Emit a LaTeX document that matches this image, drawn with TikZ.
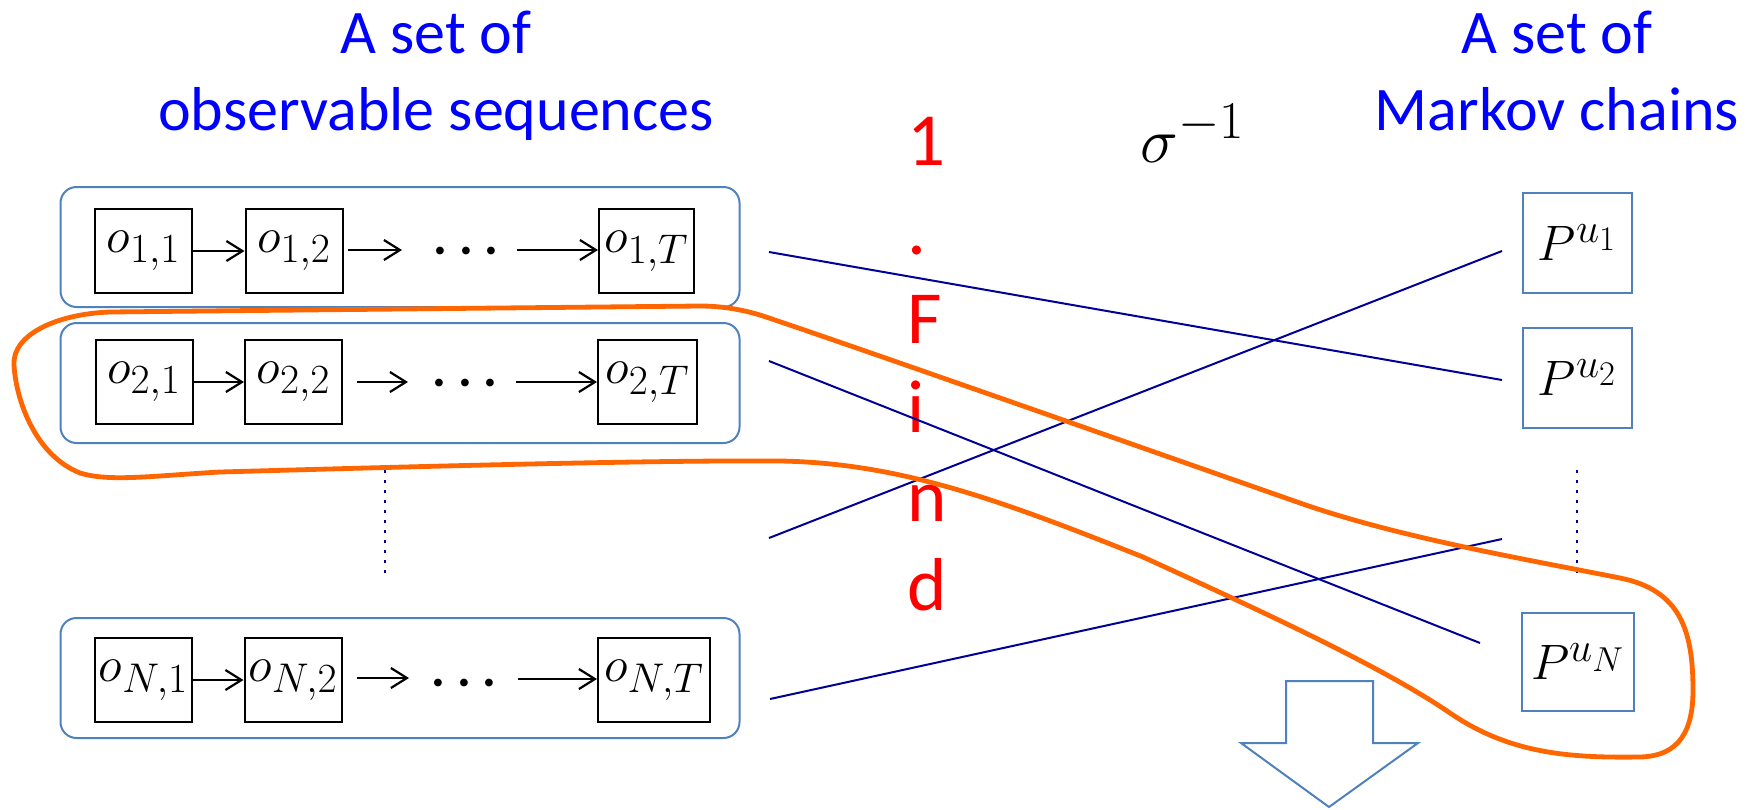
\documentclass[tikz,border=0pt]{standalone}
\usepackage{fontspec}
\newfontfamily\carl{Carlito}
\usetikzlibrary{arrows.meta,calc}
\definecolor{boxblue}{RGB}{79,129,189}
\definecolor{linenavy}{RGB}{0,0,150}
\definecolor{curveorange}{RGB}{255,102,0}
\definecolor{titleblue}{RGB}{0,0,255}
\definecolor{findred}{RGB}{255,0,0}
\tikzset{
  seqbox/.style={draw=boxblue, line width=1pt, rounded corners=8pt, minimum width=339.5pt, minimum height=60pt, inner sep=0pt},
  obox/.style={draw=black, line width=1pt, minimum width=48.5pt, minimum height=42pt, inner sep=0pt, font=\fontsize{24.88}{30}\selectfont},
  pbox/.style={draw=boxblue, line width=1pt, minimum width=54.5pt, minimum height=50pt, inner sep=0pt, font=\fontsize{24.88}{30}\selectfont},
  seqarrow/.style={-{Straight Barb[length=8pt,width=10pt,line width=1.1pt]}, line width=1.1pt},
  dotsnode/.style={inner sep=0pt, anchor=base, font=\fontsize{24.88}{30}\selectfont\boldmath},
  title/.style={text=titleblue, inner sep=0pt, anchor=base, font=\carl\fontsize{31}{38}\selectfont},
  findtext/.style={text=findred, inner sep=0pt, anchor=base west, font=\carl\fontsize{37.5}{44}\selectfont},
  link/.style={draw=linenavy, line width=1pt},
  vdots/.style={draw=linenavy, line width=1.4pt, dash pattern=on 1.4pt off 3.6pt},
  curve/.style={draw=curveorange, line width=2.4pt, line join=round},
  bigarrow/.style={draw=boxblue, line width=1pt, line join=miter}
}
\begin{document}
\begin{tikzpicture}[x=0.5pt,y=-0.5pt]
\useasboundingbox (0,0) rectangle (1762,809);

% titles
\node[title] (tl1) at (436,53) {A set of};
\node[title] (tl2) at (436,130) {observable sequences};
\node[title] (tr1) at (1557,53) {A set of};
\node[title] (tr2) at (1557,130) {Markov chains};

% sigma
\node[inner sep=0pt, anchor=base west, font=\fontsize{24.88}{30}\selectfont, scale=1.28, transform shape] (sig) at (1140,162) {$\sigma^{-1}$};

% sequence boxes
\node[seqbox] (s1) at (400,247) {};
\node[seqbox] (s2) at (400,383) {};
\node[seqbox] (s3) at (400,678) {};

% row 1
\node[obox] (o11) at (143.5,251) {$o_{1,1}$};
\node[obox] (o12) at (294,251) {$o_{1,2}$};
\node[obox, minimum width=47.5pt] (o1T) at (646.5,251) {$o_{1,T}$};
\coordinate (r1b) at (348,250);
\coordinate (r1c) at (402,250);
\coordinate (r1d) at (517,250);
\node[dotsnode] (d1) at (466,263) {$\cdots$};
\draw[seqarrow] (o11.east) -- (o12.west);
\draw[seqarrow] (r1b) -- (r1c);
\draw[seqarrow] (r1d) -- (r1d -| o1T.west);

% row 2
\node[obox] (o21) at (144,382) {$o_{2,1}$};
\node[obox] (o22) at (293.5,382) {$o_{2,2}$};
\node[obox, minimum width=49.5pt] (o2T) at (647.5,382) {$o_{2,T}$};
\coordinate (r2b) at (357,382);
\coordinate (r2c) at (408,382);
\coordinate (r2d) at (516,382);
\node[dotsnode] (d2) at (465,395) {$\cdots$};
\draw[seqarrow] (o21.east) -- (o22.west);
\draw[seqarrow] (r2b) -- (r2c);
\draw[seqarrow] (r2d) -- (r2d -| o2T.west);

% row N
\node[obox] (oN1) at (143.5,680) {$o_{N,1}$};
\node[obox] (oN2) at (293,680) {$o_{N,2}$};
\node[obox, minimum width=56pt] (oNT) at (654,680) {$o_{N,T}$};
\coordinate (r3b) at (357,678);
\coordinate (r3c) at (409,678);
\coordinate (r3d) at (518,679);
\node[dotsnode] (d3) at (464,695) {$\cdots$};
\draw[seqarrow] (oN1.east) -- (oN2.west);
\draw[seqarrow] (r3b) -- (r3c);
\draw[seqarrow] (r3d) -- (r3d -| oNT.west);

% left vertical dots
\coordinate (lv1) at (385,470);
\coordinate (lv2) at (385,579);
\draw[vdots] (lv1) -- (lv2);

% Markov chain boxes
\node[pbox] (P1) at (1577.5,243) {$P^{u_1}$};
\node[pbox] (P2) at (1577.5,377.5) {$P^{u_2}$};
\node[pbox, minimum width=56pt, minimum height=49pt] (PN) at (1578,662) {$P^{u_N}$};
\coordinate (rv1) at (1577,470);
\coordinate (rv2) at (1577,575);
\draw[vdots] (rv1) -- (rv2);

% red vertical text
\node[findtext] (f1) at (907,165) {1};
\node[findtext] (f2) at (907,254) {.};
\node[findtext] (f3) at (907,343) {F};
\node[findtext] (f4) at (907,432) {i};
\node[findtext] (f5) at (907,521) {n};
\node[findtext] (f6) at (907,610) {d};

% mapping lines
\coordinate (L1s) at (769,252);
\coordinate (L1e) at (1502,380);
\coordinate (L2s) at (769,361);
\coordinate (L2e) at (1480,643);
\coordinate (L3s) at (769,538);
\coordinate (L3e) at (1502,251);
\coordinate (L4s) at (770,699);
\coordinate (L4e) at (1502,539);
\draw[link] (L1s) -- (L1e);
\draw[link] (L2s) -- (L2e);
\draw[link] (L3s) -- (L3e);
\draw[link] (L4s) -- (L4e);

% orange loop
\draw[curve] (700,306)
  .. controls (500,308) and (300,310) .. (110,312)
  .. controls (56,314) and (12,335) .. (14,365)
  .. controls (16,400) and (35,455) .. (80,473)
  .. controls (110,482) and (150,476) .. (220,472)
  .. controls (400,467) and (650,460) .. (780,461)
  .. controls (900,463) and (1000,500) .. (1143,557)
  .. controls (1250,606) and (1380,665) .. (1450,713)
  .. controls (1510,754) and (1570,758) .. (1640,757)
  .. controls (1680,756) and (1693,730) .. (1693,690)
  .. controls (1693,630) and (1680,590) .. (1620,578)
  .. controls (1530,560) and (1400,538) .. (1300,503)
  .. controls (1100,433) and (850,345) .. (760,315)
  .. controls (740,309) and (720,306) .. cycle;

% big down arrow
\draw[bigarrow] (1286,681) -- (1373,681) -- (1373,743) -- (1418,743)
  -- (1329,807) -- (1241,743) -- (1286,743) -- cycle;
\end{tikzpicture}
\end{document}
